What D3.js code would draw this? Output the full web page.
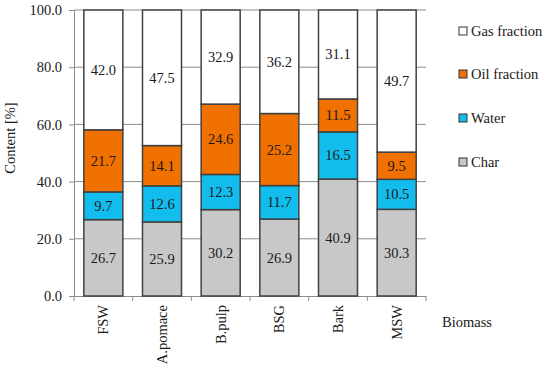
<!DOCTYPE html>
<html><head><meta charset="utf-8">
<script src="https://cdn.jsdelivr.net/npm/d3@7"></script>
<style>body{margin:0;background:#fff}svg{display:block}</style>
</head><body><svg id="c" width="550" height="370" font-family="Liberation Serif"></svg>
<script>
const categories = ["FSW","A.pomace","B.pulp","BSG","Bark","MSW"];
const seriesNames = ["Char","Water","Oil fraction","Gas fraction"];
const charVals = [26.7,25.9,30.2,26.9,40.9,30.3];
const waterVals = [9.7,12.6,12.3,11.7,16.5,10.5];
const oilVals = [21.7,14.1,24.6,25.2,11.5,9.5];
const gasVals = [42.0,47.5,32.9,36.2,31.1,49.7];
const yTicks = [0,20,40,60,80,100];
const colors = ["#c8c8c8","#12bdee","#f07000","#ffffff"];
const FONT = '"Liberation Serif", "Times New Roman", serif';
const FS = "14.5px";

const svg = d3.select("#c");
const x = d3.scaleBand().domain(categories).range([74,426]).paddingInner(0.335).paddingOuter(0.1675);
const y = d3.scaleLinear().domain([0,100]).range([296,10]);

const rows = categories.map((c,i)=>({cat:c,"Char":charVals[i],"Water":waterVals[i],"Oil fraction":oilVals[i],"Gas fraction":gasVals[i]}));
const stack = d3.stack().keys(seriesNames)(rows);

function txt(sel){ return sel.style("font-family",FONT,"important").style("font-size",FS,"important").attr("fill","#1a1a1a"); }

// gridlines
svg.append("g").selectAll("line").data(yTicks.filter(d=>d>0)).join("line")
  .attr("x1",74).attr("x2",426).attr("y1",d=>y(d)).attr("y2",d=>y(d))
  .attr("stroke","#8c8c8c").attr("stroke-width",1);

// y axis
const ya = svg.append("g").attr("transform","translate(74,0)")
  .call(d3.axisLeft(y).tickValues(yTicks).tickFormat(d3.format(".1f")).tickSize(5).tickPadding(7));
ya.attr("font-family",null);
ya.select(".domain").attr("stroke","#8c8c8c");
ya.selectAll(".tick line").attr("stroke","#8c8c8c");
txt(ya.selectAll("text"));

// x axis
const xa = svg.append("g").attr("transform","translate(0,296)")
  .call(d3.axisBottom(x).tickSize(0).tickFormat(""));
xa.attr("font-family",null);
xa.select(".domain").attr("stroke","#8c8c8c");
const bandEdges = d3.range(categories.length+1).map(i=>74+i*(352/categories.length));
svg.append("g").selectAll("line").data(bandEdges).join("line")
  .attr("x1",d=>d).attr("x2",d=>d).attr("y1",296).attr("y2",301).attr("stroke","#8c8c8c");
txt(svg.append("g").selectAll("text").data(categories).join("text")
  .attr("transform",d=>`translate(${x(d)+x.bandwidth()/2+5},305) rotate(-90)`)
  .attr("text-anchor","end")).text(d=>d);

// bars
const gs = svg.append("g").selectAll("g").data(stack).join("g").attr("fill",(d,i)=>colors[i]);
gs.selectAll("rect").data(d=>d).join("rect")
  .attr("x",d=>x(d.data.cat)).attr("width",x.bandwidth())
  .attr("y",d=>y(Math.min(100,d[1]))).attr("height",d=>y(d[0])-y(Math.min(100,d[1])))
  .attr("stroke","#404040").attr("stroke-width",1.5);
// labels
txt(svg.append("g").selectAll("g").data(stack).join("g").selectAll("text").data(d=>d).join("text")
  .attr("x",d=>x(d.data.cat)+x.bandwidth()/2)
  .attr("y",d=>y((d[0]+Math.min(100,d[1]))/2)+5)
  .attr("text-anchor","middle"))
  .text(d=>(d[1]-d[0]).toFixed(1));

// titles
txt(svg.append("text").attr("transform","translate(15,138) rotate(-90)").attr("text-anchor","middle")).text("Content [%]");
txt(svg.append("text").attr("x",442).attr("y",327)).text("Biomass");

// legend
const legendOrder = ["Gas fraction","Oil fraction","Water","Char"];
const legendY = [31,74,118,162];
const lg = svg.append("g").selectAll("g").data(legendOrder).join("g")
  .attr("transform",(d,i)=>`translate(459,${legendY[i]})`);
lg.append("rect").attr("x",0).attr("y",-4).attr("width",8).attr("height",8)
  .attr("fill",d=>colors[seriesNames.indexOf(d)]).attr("stroke","#333").attr("stroke-width",1);
txt(lg.append("text").attr("x",12).attr("y",5)).text(d=>d);
</script></body></html>
